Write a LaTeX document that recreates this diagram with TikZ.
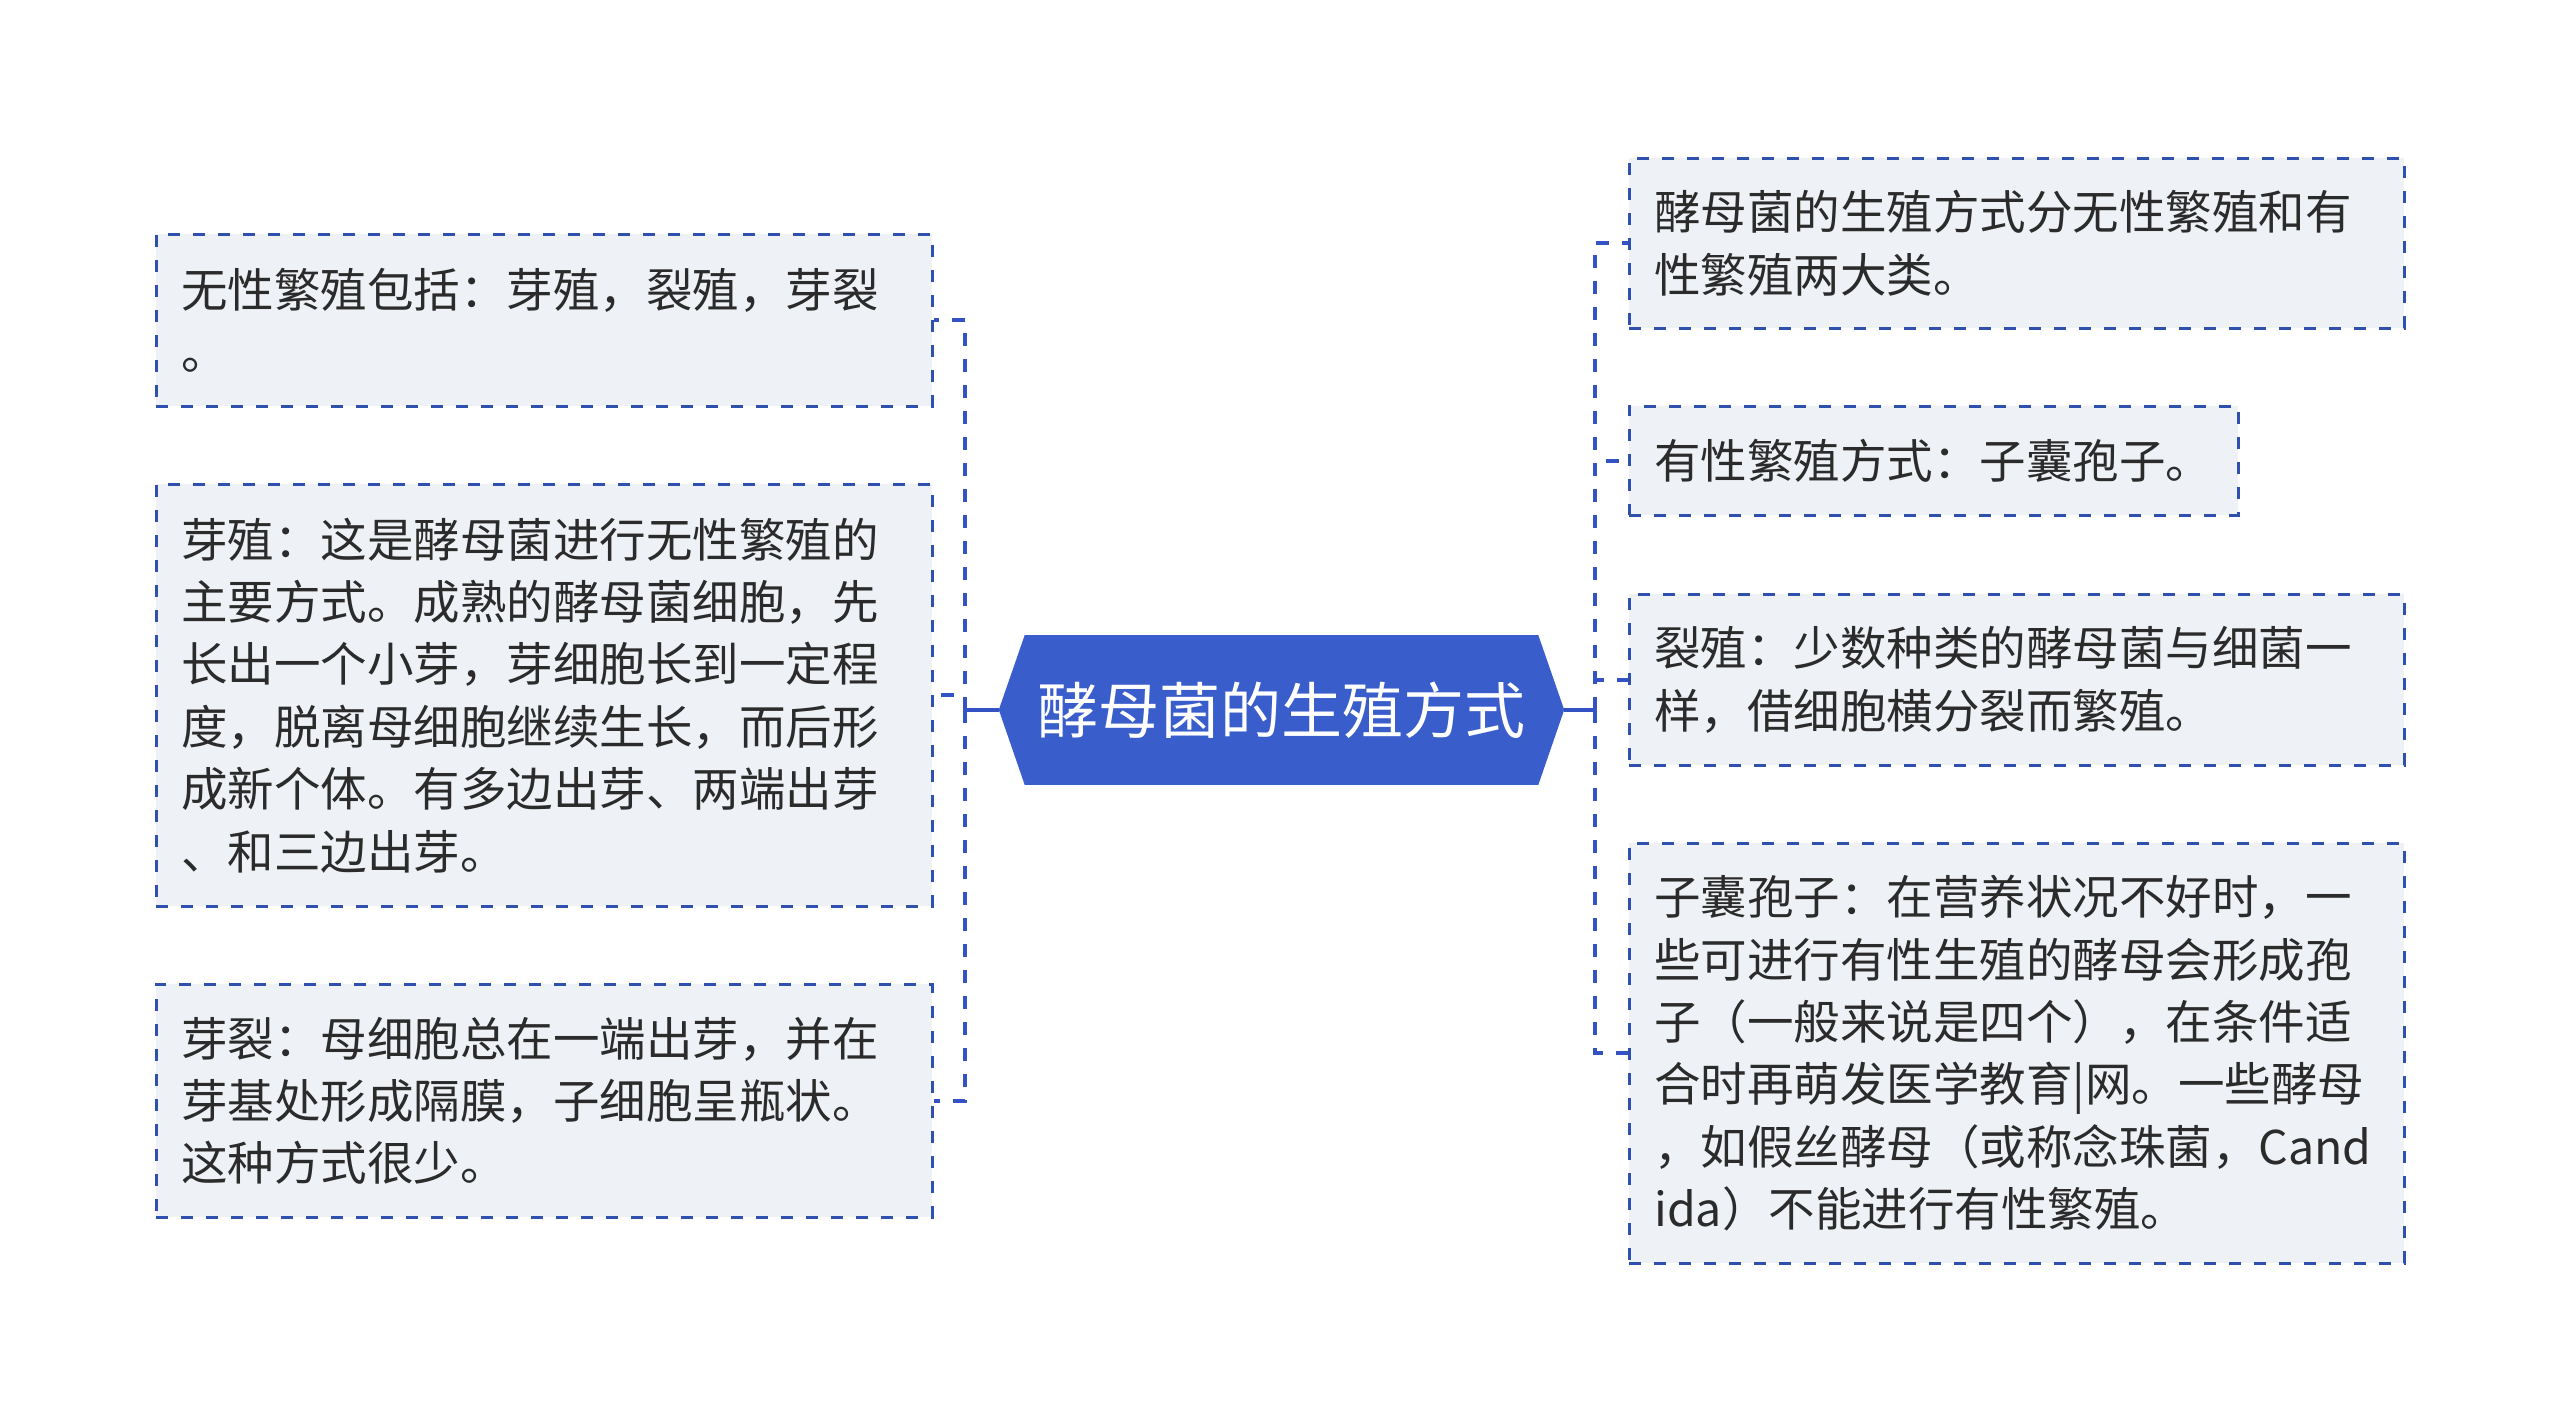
\documentclass[tikz,border=0pt]{standalone}
\usepackage{fontspec}
\setmainfont{Noto Sans CJK SC}
\definecolor{rootblue}{HTML}{3A5DCC}
\definecolor{boxline}{HTML}{3050AE}
\definecolor{connblue}{HTML}{3353C4}
\definecolor{boxfill}{HTML}{EEF1F5}
\definecolor{txt}{HTML}{2B2B2B}
\tikzset{
  leaf/.style={rectangle, anchor=north west, fill=boxfill, draw=boxline, line width=2.5pt,
    dash pattern=on 12pt off 13pt, inner xsep=25pt, inner ysep=0pt, align=left,
    text=txt, font=\fontsize{46.5}{62.4}\selectfont},
  rootbox/.style={rectangle, fill=rootblue, minimum width=513pt, minimum height=150pt,
    inner sep=0pt, text=white, font=\fontsize{61}{72}\selectfont},
  conn/.style={draw=connblue, line width=4pt, dash pattern=on 13pt off 13pt},
  stub/.style={draw=connblue, line width=4pt}
}
\begin{document}
\begin{tikzpicture}[x=1pt,y=-1pt]
\useasboundingbox[fill=white] (0,0) rectangle (2560,1421);
% root
\node[rootbox] (root) at (1281.5,710) {酵母菌的生殖方式};
\fill[rootblue] (root.north west) -- ++(-26,75) -- (root.south west) -- cycle;
\fill[rootblue] (root.north east) -- ++(26,75) -- (root.south east) -- cycle;
\coordinate (rootL) at (999,710);
\coordinate (rootR) at (1564,710);
\coordinate (lspine) at (965,710);
\coordinate (rspine) at (1595,710);
% left leaves
\node[leaf, minimum width=776pt, minimum height=172pt, text width=726pt] (L1) at (155,233)
 {无性繁殖包括：芽殖，裂殖，芽裂\\。};
\node[leaf, minimum width=776pt, minimum height=422pt, text width=726pt] (L2) at (155,483)
 {芽殖：这是酵母菌进行无性繁殖的\\主要方式。成熟的酵母菌细胞，先\\长出一个小芽，芽细胞长到一定程\\度，脱离母细胞继续生长，而后形\\成新个体。有多边出芽、两端出芽\\、和三边出芽。};
\node[leaf, minimum width=776pt, minimum height=233pt, text width=726pt] (L3) at (155,983)
 {芽裂：母细胞总在一端出芽，并在\\芽基处形成隔膜，子细胞呈瓶状。\\这种方式很少。};
% right leaves
\node[leaf, minimum width=775pt, minimum height=170pt, text width=725pt] (R1) at (1628,157)
 {酵母菌的生殖方式分无性繁殖和有\\性繁殖两大类。};
\node[leaf, minimum width=609pt, minimum height=109pt, text width=559pt] (R2) at (1628,405)
 {有性繁殖方式：子囊孢子。};
\node[leaf, minimum width=775pt, minimum height=171pt, text width=725pt] (R3) at (1628,593)
 {裂殖：少数种类的酵母菌与细菌一\\样，借细胞横分裂而繁殖。};
\node[leaf, minimum width=775pt, minimum height=420pt, text width=725pt] (R4) at (1628,842)
 {子囊孢子：在营养状况不好时，一\\些可进行有性生殖的酵母会形成孢\\子（一般来说是四个），在条件适\\合时再萌发医学教育|网。一些酵母\\，如假丝酵母（或称念珠菌，Cand\\ida）不能进行有性繁殖。};
% connectors
\draw[stub] (rootL) -- (lspine);
\draw[stub] (rootR) -- (rspine);
\draw[conn] (lspine) |- (L1.east);
\draw[conn] (lspine) |- (L2.east);
\draw[conn] (lspine) |- (L3.east);
\draw[conn] (rspine) |- (R1.west);
\draw[conn] (rspine) |- (R2.west);
\draw[conn] (rspine) |- (R3.west);
\draw[conn] (rspine) |- (R4.west);
\end{tikzpicture}
\end{document}
